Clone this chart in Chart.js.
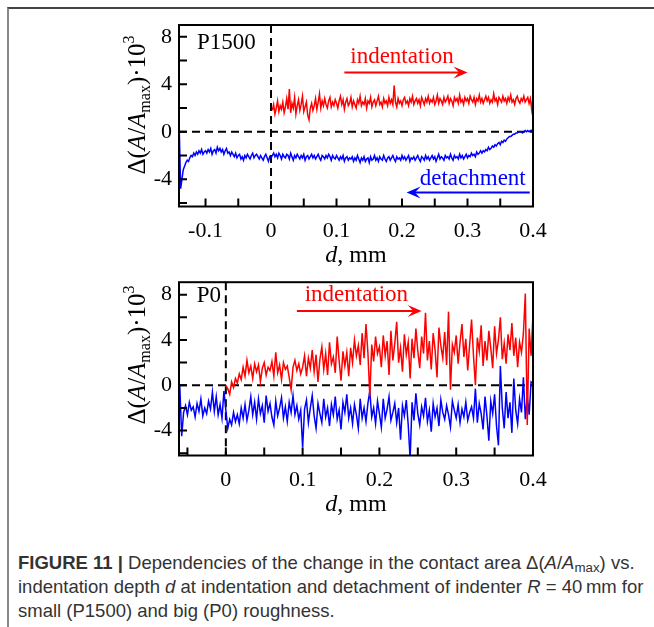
<!DOCTYPE html>
<html><head><meta charset="utf-8">
<script src="https://cdn.jsdelivr.net/npm/chart.js@4.4.1/dist/chart.umd.min.js"></script>
<style>
html,body{margin:0;padding:0;background:#fff;}
body{width:654px;height:627px;position:relative;overflow:hidden;}
#frame{position:absolute;left:7px;top:7px;width:647px;height:620px;border-top:2px solid #444;border-left:2px solid #888;box-sizing:border-box;}
.cw{position:absolute;left:0;width:654px;}
#c1w{top:0;height:272px}
#c2w{top:262px;height:258px}
#cap{position:absolute;left:18px;top:551px;width:636px;font-family:'Liberation Sans',Arial,sans-serif;font-size:18.5px;line-height:24px;color:#333;white-space:nowrap;}
#cap sub{font-size:0.72em;vertical-align:-0.25em;line-height:0;}
</style></head>
<body>
<div id="frame"></div>
<div class="cw" id="c1w"><canvas id="c1" width="654" height="272"></canvas></div>
<div class="cw" id="c2w"><canvas id="c2" width="654" height="258"></canvas></div>
<div id="cap"><b>FIGURE 11 |</b> Dependencies of the change in the contact area Δ(<i>A</i>/<i>A</i><sub>max</sub>) vs.<br>indentation depth <i>d</i> at indentation and detachment of indenter <i>R</i> = 40&#8201;mm for<br>small (P1500) and big (P0) roughness.</div>
<script>
// ---------- DATA ----------
// P1500 (top panel): indentation (red) and detachment (blue), values ×10^3
const p1500IndentStart = 0.002, p1500IndentStep = 0.002;
const p1500Indent = [
 1.8,2.3,1.5,2.0,2.6,1.7,2.2,1.9,2.5,1.6,
 2.1,2.8,1.9,3.6,1.6,2.4,2.0,2.9,1.5,2.2,
 2.7,1.8,2.3,3.0,1.7,2.1,2.5,1.4,1.0,2.0,
 2.4,1.8,2.2,2.8,1.9,2.5,3.2,2.0,2.6,2.2,
 2.8,2.3,2.0,2.6,2.9,2.1,2.5,2.2,2.7,2.4,
 2.0,2.6,3.0,2.3,2.7,1.9,2.5,2.8,2.2,2.4,
 2.9,2.1,2.6,2.3,2.0,2.7,2.4,3.0,2.2,2.5,
 2.3,2.8,2.0,2.6,2.4,2.9,2.1,2.5,2.7,2.2,
 2.6,3.0,2.3,2.5,2.1,2.8,2.4,2.6,2.2,2.9,
 2.4,2.7,2.3,3.9,2.5,2.1,2.8,2.4,2.6,2.2,
 2.7,2.9,2.4,2.6,2.2,2.8,2.5,3.0,2.3,2.6,
 2.8,2.4,2.7,2.2,2.9,2.6,2.3,2.8,2.5,3.0,
 2.4,2.7,2.5,2.9,2.3,2.6,3.1,2.4,2.8,2.6,
 2.3,2.9,2.5,2.7,3.0,2.4,2.8,2.6,2.2,2.9,
 2.6,2.8,2.4,3.1,2.5,2.7,2.3,2.9,2.6,2.8,
 2.4,3.0,2.7,2.5,2.9,2.3,2.8,2.6,3.1,2.5,
 2.8,2.4,2.7,3.0,2.6,2.9,2.4,2.7,2.5,3.2,
 2.6,2.8,2.3,2.9,2.7,2.5,3.0,2.6,2.8,2.4,
 2.9,2.6,3.1,2.5,2.7,2.3,2.8,3.0,2.6,2.4,
 2.8,2.6,3.0,2.5,2.7,2.9,2.4,2.8,1.9,2.8];
const p1500DetachStart = -0.14, p1500DetachStep = 0.002;
const p1500Detach = [
 0.0,-4.8,-4.0,-3.2,-2.9,-2.6,-2.4,-2.5,-2.2,-2.0,-2.1,
 -1.8,-2.0,-1.7,-1.9,-1.6,-1.8,-1.5,-1.9,-1.7,-1.6,
 -1.8,-1.5,-1.7,-1.4,-1.9,-1.6,-1.5,-1.8,-1.3,-1.6,
 -1.4,-1.7,-1.5,-1.9,-1.6,-1.4,-1.8,-1.7,-2.0,-1.7,
 -1.9,-2.1,-1.8,-2.2,-2.0,-1.9,-2.3,-2.1,-2.4,-2.0,
 -2.2,-1.9,-2.1,-2.3,-2.0,-1.8,-2.2,-2.0,-1.9,-2.1,
 -2.3,-2.0,-2.2,-2.4,-2.1,-1.9,-2.2,-2.5,-2.1,-2.2,
 -2.0,-1.8,-2.1,-1.9,-2.2,-1.8,-2.0,-2.3,-1.9,-2.1,
 -2.2,-1.9,-2.0,-2.3,-1.8,-2.1,-2.4,-2.0,-2.2,-1.9,
 -2.1,-2.3,-2.0,-2.2,-1.9,-2.4,-2.1,-2.0,-2.3,-2.1,
 -1.9,-2.2,-2.0,-2.3,-2.1,-1.9,-2.2,-2.4,-2.0,-2.1,
 -2.3,-2.0,-2.2,-1.9,-2.1,-2.4,-2.0,-2.2,-2.3,-2.0,
 -2.2,-2.4,-2.1,-2.3,-2.0,-2.5,-2.2,-2.1,-2.4,-2.2,
 -2.3,-2.1,-2.5,-2.2,-2.4,-2.0,-2.3,-2.6,-2.2,-2.4,
 -2.1,-2.5,-2.3,-2.2,-2.6,-2.1,-2.4,-2.3,-2.0,-2.4,
 -2.2,-2.5,-2.1,-2.3,-2.4,-2.0,-2.3,-2.5,-2.2,-2.1,
 -2.4,-2.2,-2.0,-2.3,-2.5,-2.1,-2.3,-2.2,-2.4,-2.0,
 -2.3,-2.1,-2.4,-2.2,-2.0,-2.5,-2.2,-2.3,-2.1,-2.4,
 -2.2,-2.0,-2.3,-2.5,-2.1,-2.2,-2.4,-2.0,-2.3,-2.1,
 -2.4,-2.2,-2.0,-2.3,-2.1,-2.5,-2.2,-1.9,-2.3,-2.1,
 -2.2,-2.4,-2.0,-2.2,-2.1,-2.3,-1.9,-2.2,-2.4,-2.0,
 -2.2,-2.1,-2.3,-1.9,-2.2,-2.0,-2.3,-2.1,-1.9,-2.2,
 -2.0,-2.1,-1.8,-2.0,-1.9,-2.1,-1.7,-1.9,-1.8,-1.6,
 -1.8,-1.6,-1.7,-1.5,-1.6,-1.3,-1.5,-1.4,-1.2,-1.3,
 -1.1,-1.2,-1.0,-0.9,-1.1,-0.8,-0.9,-0.7,-0.8,-0.6,
 -0.5,-0.4,-0.4,-0.3,-0.2,-0.2,-0.1,-0.1,0.0,0.0,
 0.0,-0.1,0.0,0.1,0.0,0.1,0.0,0.1,0.1,0.2];
// P0 (bottom panel)
const p0IndentStart = 0.0, p0IndentStep = 0.0025;
const p0Indent = [0.0,
 -0.3,-0.8,0.3,-0.2,0.6,0.2,1.0,0.5,
 1.6,0.8,2.2,1.1,1.7,0.6,1.9,1.2,
 1.8,0.3,1.5,2.0,0.9,1.6,1.3,2.1,
 0.8,2.9,1.1,1.8,0.5,2.0,1.4,1.7,
 0.7,-0.4,1.6,2.2,1.3,1.9,1.0,1.6,
 2.6,0.8,2.4,1.5,3.1,1.2,2.7,0.3,
 2.3,3.4,1.4,2.8,0.9,3.8,1.9,2.5,
 1.1,4.3,2.2,0.4,3.0,1.7,2.9,0.8,
 3.3,2.0,4.0,2.6,3.5,1.8,4.6,2.4,
 5.4,2.9,-1.0,3.6,2.1,4.3,2.8,3.4,
 1.6,4.4,2.6,3.9,0.9,4.8,2.2,3.7,
 5.6,2.0,3.3,1.2,4.5,2.7,3.8,0.6,
 4.1,2.4,5.0,3.0,1.5,4.3,2.8,6.4,
 2.2,3.9,1.4,4.6,3.1,0.7,5.1,3.5,
 2.4,4.7,1.8,6.5,-0.4,3.6,2.9,4.4,
 1.9,3.8,5.4,2.5,4.1,1.3,3.6,5.8,
 2.6,0.0,4.2,3.0,5.3,1.7,3.9,2.2,
 4.8,3.3,1.5,5.2,2.8,4.0,6.0,2.3,
 3.7,1.9,4.5,3.1,5.5,2.6,4.2,1.6,
 3.8,2.9,4.6,8.1,-3.5,5.0,2.6,6.3];
const p0DetachStart = -0.06, p0DetachStep = 0.0025;
const p0Detach = [
 0.0,-4.5,-2.4,-1.8,-2.6,-1.5,-2.2,-1.9,-2.8,
 -1.6,-2.3,-1.2,-2.7,-2.0,-2.5,-1.4,-2.1,
 -0.6,-2.3,-1.0,-2.6,-1.7,-2.9,-0.5,-2.2,
 -3.8,-3.0,-3.5,-2.4,-3.2,-2.6,-3.4,-2.0,
 -2.9,-1.7,-3.1,-2.2,-1.0,-2.6,-1.5,-3.0,
 -1.2,-2.5,-1.8,-3.3,-0.9,-2.3,-1.6,-2.8,
 -3.5,-1.4,-2.7,-2.0,-1.1,-2.9,-1.9,-3.2,
 -1.5,-2.4,-0.9,-2.6,-1.8,-3.0,-2.2,-5.5,
 -2.1,-1.3,-3.3,-2.0,-0.9,-2.7,-3.8,-1.6,
 -2.5,-3.3,-1.2,-2.8,-2.0,-3.6,-1.7,-2.6,
 -1.0,-3.0,-2.2,-3.9,-1.5,-2.4,-0.8,-2.9,
 -2.0,-3.4,-1.7,-2.6,-3.8,-1.2,-2.9,-2.0,
 -3.2,-1.6,-0.5,-2.8,-2.0,-3.4,-1.4,-2.5,
 -3.7,-1.2,-2.9,-2.1,-1.0,-3.1,-2.4,-1.6,
 -3.3,-2.0,-4.8,-1.8,-2.7,-1.3,-3.5,-6.5,
 -1.5,-3.1,-0.7,-2.5,-3.5,-1.9,-2.7,-1.1,
 -3.2,-2.2,-4.1,-1.6,-2.8,-2.0,-3.6,-1.3,
 -2.4,-3.0,-1.8,-2.6,-3.7,-1.4,-2.2,-2.9,
 -1.7,-3.3,-2.1,-2.8,-1.5,-3.1,-2.4,-1.9,
 -2.9,-0.3,-3.3,-1.6,-2.5,-3.9,-1.0,-2.7,
 -4.9,-1.4,-2.5,-0.8,-3.6,-5.3,1.7,-2.0,
 -3.8,-0.6,-2.9,-1.5,-4.2,0.6,-2.2,-3.4,
 -1.2,-2.4,0.7,-3.0,-1.0,-2.6,0.3,0.2];

// ticks
const yTickValues = [-6,-4,-2,0,2,4,6,8];
const yTickLabels = ['','-4','','0','','4','','8'];
const topXTickValues = [-0.1,-0.05,0,0.05,0.1,0.15,0.2,0.25,0.3,0.35,0.4];
const topXTickLabels = ['-0.1','','0','','0.1','','0.2','','0.3','','0.4'];
const botXTickValues = [-0.05,0,0.05,0.1,0.15,0.2,0.25,0.3,0.35,0.4];
const botXTickLabels = ['','0','','0.1','','0.2','','0.3','','0.4'];

// ---------- HELPERS ----------
function pts(start, step, ys){ return ys.map((y,i)=>({x: +(start+i*step).toFixed(5), y})); }
const SERIF = "'Liberation Serif','Times New Roman',serif";
const RED = '#ff0000', BLUE = '#0000ff';

function arrow(ctx, x1, x2, y, color){
  const dir = Math.sign(x2-x1), L = 14, W = 6;
  ctx.save();
  ctx.strokeStyle = color; ctx.fillStyle = color; ctx.lineWidth = 2; ctx.setLineDash([]);
  ctx.beginPath(); ctx.moveTo(x1,y); ctx.lineTo(x2-dir*L*0.6,y); ctx.stroke();
  ctx.beginPath(); ctx.moveTo(x2,y); ctx.lineTo(x2-dir*L,y-W); ctx.lineTo(x2-dir*L*0.6,y); ctx.lineTo(x2-dir*L,y+W); ctx.closePath(); ctx.fill();
  ctx.restore();
}

const decor = {
  id:'decor',
  beforeDatasetsDraw(chart){
    const ctx=chart.ctx, a=chart.chartArea, xs=chart.scales.x, ys=chart.scales.y;
    ctx.save();
    ctx.strokeStyle='#000'; ctx.lineWidth=2; ctx.setLineDash([8,5]);
    const x0=xs.getPixelForValue(0), y0=ys.getPixelForValue(0);
    ctx.beginPath(); ctx.moveTo(x0,a.top); ctx.lineTo(x0,a.bottom); ctx.stroke();
    ctx.beginPath(); ctx.moveTo(a.left,y0); ctx.lineTo(a.right,y0); ctx.stroke();
    ctx.restore();
  },
  afterDatasetsDraw(chart, args, o){
    const ctx=chart.ctx, a=chart.chartArea, xs=chart.scales.x, ys=chart.scales.y;
    ctx.save();
    ctx.strokeStyle='#000'; ctx.lineWidth=2; ctx.setLineDash([]);
    ctx.strokeRect(a.left, a.top, a.right-a.left, a.bottom-a.top);
    ctx.beginPath();
    xs.ticks.forEach(t=>{const p=xs.getPixelForValue(t.value); ctx.moveTo(p,a.bottom); ctx.lineTo(p,a.bottom-8);});
    ys.ticks.forEach(t=>{const p=ys.getPixelForValue(t.value); ctx.moveTo(a.left,p); ctx.lineTo(a.left+8,p);});
    ctx.stroke();
    ctx.textBaseline='middle';
    (o.texts||[]).forEach(t=>{
      ctx.font = t.font; ctx.fillStyle=t.color; ctx.textAlign=t.align||'center';
      ctx.fillText(t.text, xs.getPixelForValue(t.x), ys.getPixelForValue(t.y));
    });
    (o.arrows||[]).forEach(r=>arrow(ctx, xs.getPixelForValue(r.x1), xs.getPixelForValue(r.x2), ys.getPixelForValue(r.y), r.color));
    // x title: "d, mm"
    const xt = [{t:'d',f:'italic 24px '+SERIF},{t:', mm',f:'24px '+SERIF}];
    let w=0; xt.forEach(p=>{ctx.font=p.f; w+=ctx.measureText(p.t).width;});
    let cx = (a.left+a.right)/2 - w/2; const ty = a.bottom + o.xTitleOffset;
    ctx.fillStyle='#000'; ctx.textAlign='left'; ctx.textBaseline='alphabetic';
    xt.forEach(p=>{ctx.font=p.f; ctx.fillText(p.t,cx,ty); cx+=ctx.measureText(p.t).width;});
    // y title: Δ(A/Amax)·10^3
    const yt = [{t:'Δ(',f:'25px '+SERIF,d:0},{t:'A',f:'italic 25px '+SERIF,d:0},{t:'/',f:'25px '+SERIF,d:0},
      {t:'A',f:'italic 25px '+SERIF,d:0},{t:'max',f:'16px '+SERIF,d:5},{t:')·10',f:'25px '+SERIF,d:0},{t:'3',f:'16px '+SERIF,d:-11}];
    w=0; yt.forEach(p=>{ctx.font=p.f; w+=ctx.measureText(p.t).width;});
    ctx.translate(o.yTitleX, o.yTitleY); ctx.rotate(-Math.PI/2);
    let u=-w/2;
    yt.forEach(p=>{ctx.font=p.f; ctx.fillText(p.t,u,p.d); u+=ctx.measureText(p.t).width;});
    ctx.restore();
  }
};

function makeChart(id, cfg){
  return new Chart(document.getElementById(id), {
    type:'line',
    data:{datasets:[
      {data:cfg.red, borderColor:RED, borderWidth:1.5, pointRadius:0, tension:0, fill:false},
      {data:cfg.blue, borderColor:BLUE, borderWidth:1.5, pointRadius:0, tension:0, fill:false}
    ]},
    plugins:[decor],
    options:{
      responsive:false, animation:false, events:[],
      layout:{padding:{left:0, right:121, top:cfg.top, bottom:0}},
      plugins:{legend:{display:false}, tooltip:{enabled:false},
        decor:{texts:cfg.texts, arrows:cfg.arrows, xTitleOffset:55, yTitleX:145, yTitleY:cfg.yTitleY}},
      scales:{
        x:{type:'linear', min:cfg.xmin, max:0.4,
           grid:{display:false, drawTicks:false}, border:{display:false},
           afterBuildTicks:s=>{s.ticks=cfg.xTicks.map(v=>({value:v}));},
           afterFit:s=>{s.height=cfg.xh;},
           ticks:{autoSkip:false, maxRotation:0, padding:12, color:'#000', font:{family:SERIF,size:22},
             callback:(v,i)=>cfg.xLabels[i]}},
        y:{type:'linear', min:cfg.ymin, max:cfg.ymax,
           grid:{display:false, drawTicks:false}, border:{display:false},
           afterBuildTicks:s=>{s.ticks=yTickValues.map(v=>({value:v}));},
           afterFit:s=>{s.width=179;},
           ticks:{autoSkip:false, padding:7, color:'#000', font:{family:SERIF,size:22},
             callback:(v,i)=>yTickLabels[i]}}
      }
    }
  });
}

makeChart('c1', {
  red: pts(p1500IndentStart, p1500IndentStep, p1500Indent),
  blue: pts(p1500DetachStart, p1500DetachStep, p1500Detach),
  xmin:-0.1405, ymin:-6.3, ymax:9.0, top:25, xh:65.5,
  xTicks: topXTickValues, xLabels: topXTickLabels,
  yTitleY:105,
  texts:[
    {text:'P1500', x:-0.113, y:7.5, color:'#000', font:'23px '+SERIF, align:'left'},
    {text:'indentation', x:0.2, y:6.3, color:RED, font:'23px '+SERIF},
    {text:'detachment', x:0.308, y:-3.98, color:BLUE, font:'23px '+SERIF}
  ],
  arrows:[
    {x1:0.112, x2:0.3, y:5.0, color:RED},
    {x1:0.395, x2:0.207, y:-5.13, color:BLUE}
  ]
});

makeChart('c2', {
  red: pts(p0IndentStart, p0IndentStep, p0Indent),
  blue: pts(p0DetachStart, p0DetachStep, p0Detach),
  xmin:-0.061, ymin:-6.2, ymax:9.1, top:12, xh:64.5,
  xTicks: botXTickValues, xLabels: botXTickLabels,
  yTitleY:93,
  texts:[
    {text:'P0', x:-0.038, y:7.9, color:'#000', font:'23px '+SERIF, align:'left'},
    {text:'indentation', x:0.17, y:8.0, color:RED, font:'23px '+SERIF}
  ],
  arrows:[
    {x1:0.0925, x2:0.255, y:6.55, color:RED}
  ]
});
</script>
</body></html>
